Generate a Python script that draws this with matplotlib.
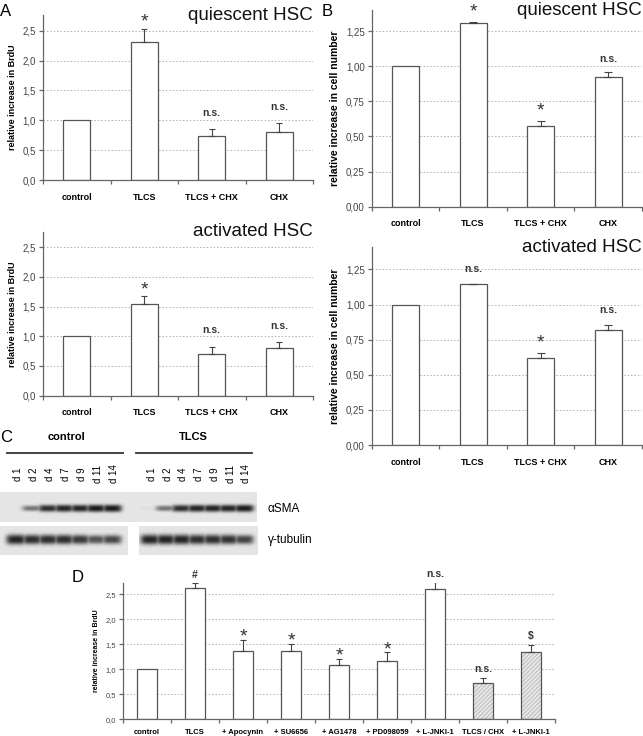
import numpy as np
import matplotlib
matplotlib.use("Agg")
import matplotlib.pyplot as plt
from matplotlib.ticker import FixedLocator

plt.rcParams['font.family'] = ['Liberation Sans', 'DejaVu Sans']

W, H = 643, 736

# ---- data -------------------------------------------------------------
cats_abc = ["control", "TLCS", "TLCS + CHX", "CHX"]

brdu_quiescent = [1.00, 2.31, 0.74, 0.81]
brdu_quiescent_err = [0.0, 0.21, 0.11, 0.14]
brdu_quiescent_notes = ["", "*", "n.s.", "n.s."]

brdu_activated = [1.00, 1.55, 0.71, 0.80]
brdu_activated_err = [0.0, 0.12, 0.11, 0.10]
brdu_activated_notes = ["", "*", "n.s.", "n.s."]

cells_quiescent = [1.00, 1.31, 0.577, 0.926]
cells_quiescent_err = [0.0, 0.004, 0.035, 0.034]
cells_quiescent_notes = ["", "*", "*", "n.s."]

cells_activated = [1.00, 1.146, 0.62, 0.82]
cells_activated_err = [0.0, 0.002, 0.036, 0.035]
cells_activated_notes = ["", "n.s.", "*", "n.s."]

cats_d = ["control", "TLCS", "+ Apocynin", "+ SU6656", "+ AG1478",
          "+ PD098059", "+ L-JNKI-1", "TLCS / CHX", "+ L-JNKI-1"]
brdu_inhib = [1.00, 2.62, 1.36, 1.36, 1.09, 1.16, 2.60, 0.73, 1.35]
brdu_inhib_err = [0.0, 0.10, 0.22, 0.14, 0.12, 0.18, 0.14, 0.10, 0.14]
brdu_inhib_notes = ["", "#", "*", "*", "*", "*", "n.s.", "n.s.", "$"]
brdu_inhib_hatched = [False] * 7 + [True, True]

lane_days = ["d 1", "d 2", "d 4", "d 7", "d 9", "d 11", "d 14"]
asma_control = [0.0, 0.55, 0.9, 0.95, 0.95, 1.0, 1.0]
asma_tlcs = [0.04, 0.55, 0.9, 0.95, 0.95, 0.95, 1.0]
tubulin_control = [0.95, 0.9, 0.9, 0.9, 0.85, 0.72, 0.78]
tubulin_tlcs = [0.95, 0.95, 0.95, 0.9, 0.9, 0.88, 0.8]

EDGE = "#555555"
AXC = "#666666"


def px_axes(fig, left, top, right, bottom):
    return fig.add_axes([left / W, 1 - bottom / H,
                         (right - left) / W, (bottom - top) / H])


def bar_panel(ax, cats, vals, errs, notes, ymax, yticks, dec, ylabel,
              tick_fs=7, cat_fs=6.5, ylab_fs=6.5, note_fs=7.5, star_fs=14,
              width=0.4, hatched=None, capsize=2.5, note_off=8, star_off=1):
    x = np.arange(len(cats))
    for i in x:
        if hatched is not None and hatched[i]:
            ax.bar(i, vals[i], width, color="#ececec", edgecolor="#c4c4c4",
                   hatch="////////", linewidth=0, zorder=2)
            ax.bar(i, vals[i], width, fill=False, edgecolor=EDGE,
                   linewidth=0.9, zorder=3)
        else:
            ax.bar(i, vals[i], width, color="white", edgecolor=EDGE,
                   linewidth=0.9, zorder=2)
    errs = np.asarray(errs)
    m = errs > 0
    ax.errorbar(x[m], np.asarray(vals)[m], yerr=[np.zeros(m.sum()), errs[m]],
                fmt="none", ecolor="#444444", elinewidth=0.8, capsize=capsize,
                capthick=0.8, zorder=3)
    for i, n in enumerate(notes):
        if not n:
            continue
        top = vals[i] + errs[i]
        if n == "*":
            ax.annotate(n, (i, top), xytext=(0, star_off),
                        textcoords="offset points", ha="center", va="center",
                        fontsize=star_fs, color="#333333",
                        annotation_clip=False)
        else:
            ax.annotate(n, (i, top), xytext=(0, note_off),
                        textcoords="offset points", ha="center", va="center",
                        fontsize=note_fs, fontweight="bold", color="#333333",
                        annotation_clip=False)
    ax.set_xlim(-0.5, len(cats) - 0.5)
    ax.set_ylim(0, ymax)
    ax.set_yticks(yticks)
    ax.set_yticklabels([f"{t:.{dec}f}".replace(".", ",") for t in yticks],
                       fontsize=tick_fs, color="#444444")
    for t in yticks[1:]:
        ax.axhline(t, color="#b0b0b0", lw=0.7, ls=(0, (1.5, 2)), zorder=1)
    ax.set_xticks(x)
    ax.set_xticklabels(cats, fontsize=cat_fs, fontweight="bold")
    ax.tick_params(axis="x", which="major", length=0, pad=9)
    ax.xaxis.set_minor_locator(FixedLocator(np.arange(len(cats) + 1) - 0.5))
    ax.tick_params(axis="x", which="minor", length=3, direction="out",
                   color=AXC, width=0.9)
    ax.tick_params(axis="y", length=3, direction="out", color=AXC, width=0.9,
                   pad=2)
    for s in ("top", "right"):
        ax.spines[s].set_visible(False)
    for s in ("left", "bottom"):
        ax.spines[s].set_color(AXC)
        ax.spines[s].set_linewidth(0.9)
    ax.set_ylabel(ylabel, fontsize=ylab_fs, fontweight="bold", labelpad=4)


def blot_strip(lane_x, levels, band_y, band_h, x0, x1, y0, y1, bg, lane_w):
    xs = np.linspace(x0, x1, int((x1 - x0) * 3))
    ys = np.linspace(y0, y1, int((y1 - y0) * 3))
    X, Y = np.meshgrid(xs, ys)
    dark = np.zeros_like(X)
    for lx, lv in zip(lane_x, levels):
        h = band_h * (0.45 + 0.55 * lv)
        prof_x = np.exp(-(np.abs(X - lx) / (lane_w * 0.62)) ** 4)
        prof_y = np.exp(-(np.abs(Y - band_y) / h) ** 2.5)
        dark = np.maximum(dark, lv * prof_x * prof_y)
    img = bg - (bg - 0.1) * np.clip(dark, 0, 1)
    return img


fig = plt.figure(figsize=(W / 100, H / 100), dpi=100)

# ---- panel A ----------------------------------------------------------
axA1 = px_axes(fig, 43, 15, 313, 180.3)
bar_panel(axA1, cats_abc, brdu_quiescent, brdu_quiescent_err,
          brdu_quiescent_notes, 2.76, [0, 0.5, 1.0, 1.5, 2.0, 2.5], 1,
          "relative increase in BrdU", note_off=12, star_off=5)
axA2 = px_axes(fig, 43, 231.7, 313, 395.7)
bar_panel(axA2, cats_abc, brdu_activated, brdu_activated_err,
          brdu_activated_notes, 2.76, [0, 0.5, 1.0, 1.5, 2.0, 2.5], 1,
          "relative increase in BrdU", note_off=12, star_off=5)

# ---- panel B ----------------------------------------------------------
axB1 = px_axes(fig, 371.7, 10, 642, 206.7)
bar_panel(axB1, cats_abc, cells_quiescent, cells_quiescent_err,
          cells_quiescent_notes, 1.40, [0, 0.25, 0.5, 0.75, 1.0, 1.25], 2,
          "relative increase in cell number", ylab_fs=7.5, capsize=3,
          note_off=9, star_off=7)
axB2 = px_axes(fig, 371.7, 247, 642, 445)
bar_panel(axB2, cats_abc, cells_activated, cells_activated_err,
          cells_activated_notes, 1.41, [0, 0.25, 0.5, 0.75, 1.0, 1.25], 2,
          "relative increase in cell number", ylab_fs=7.5, capsize=3,
          note_off=11, star_off=7)

for ax, t in ((axA1, "quiescent HSC"), (axA2, "activated HSC"),
              (axB1, "quiescent HSC"), (axB2, "activated HSC")):
    ax.text(1.0, 1.0, t, transform=ax.transAxes, ha="right", va="center",
            fontsize=13.5, color="#111111")

# ---- panel D ----------------------------------------------------------
axD = px_axes(fig, 123, 582.7, 555, 719.3)
bar_panel(axD, cats_d, brdu_inhib, brdu_inhib_err, brdu_inhib_notes, 2.73,
          [0, 0.5, 1.0, 1.5, 2.0, 2.5], 1, "relative increase in BrdU",
          tick_fs=5.5, cat_fs=5.5, ylab_fs=5, note_fs=7.5, star_fs=14,
          width=0.41, hatched=brdu_inhib_hatched, capsize=2,
          note_off=6, star_off=2)
axD.tick_params(axis="x", which="major", pad=7)

# ---- overlay: panel C and letters --------------------------------------
ov = fig.add_axes([0, 0, 1, 1], zorder=-1)
ov.set_xlim(0, W)
ov.set_ylim(H, 0)
ov.axis("off")

lanes_c = 16 + 16 * np.arange(len(lane_days))
lanes_t = 150 + 15.7 * np.arange(len(lane_days))

img = blot_strip(np.r_[lanes_c, lanes_t], asma_control + asma_tlcs,
                 508.5, 3.6, 0, 257, 492.7, 521.7, 0.9, 16)
ov.imshow(img, cmap="gray", vmin=0, vmax=1, extent=(0, 257, 521.7, 492.7),
          aspect="auto", interpolation="bilinear")
img = blot_strip(lanes_c, tubulin_control, 539.5, 5.2, 0, 128, 526, 555,
                 0.9, 16)
ov.imshow(img, cmap="gray", vmin=0, vmax=1, extent=(0, 128, 555, 526),
          aspect="auto", interpolation="bilinear")
img = blot_strip(lanes_t, tubulin_tlcs, 539.5, 5.2, 139, 258, 526, 555,
                 0.9, 15.7)
ov.imshow(img, cmap="gray", vmin=0, vmax=1, extent=(139, 258, 555, 526),
          aspect="auto", interpolation="bilinear")

ov.text(66, 437, "control", ha="center", va="center", fontsize=8,
        fontweight="bold")
ov.text(193, 437, "TLCS", ha="center", va="center", fontsize=8,
        fontweight="bold")
ov.plot([7, 123], [453.3, 453.3], color="#333333", lw=1.3)
ov.plot([136, 252], [453.3, 453.3], color="#333333", lw=1.3)
for xs in (lanes_c, lanes_t):
    for lx, d in zip(xs, lane_days):
        ov.text(lx + 2, 474, d, rotation=90, ha="center", va="center",
                fontsize=7)
ov.text(268, 509, "\u03b1SMA", ha="left", va="center", fontsize=8.5)
ov.text(268, 540, "\u03b3-tubulin", ha="left", va="center", fontsize=8.5)

for lab, (lx, ly) in {"A": (0, 12), "B": (322, 12), "C": (0, 437),
                      "D": (72, 577)}.items():
    ov.text(lx, ly, lab, ha="left", va="center", fontsize=12)

fig.savefig("out.png", dpi=100)
